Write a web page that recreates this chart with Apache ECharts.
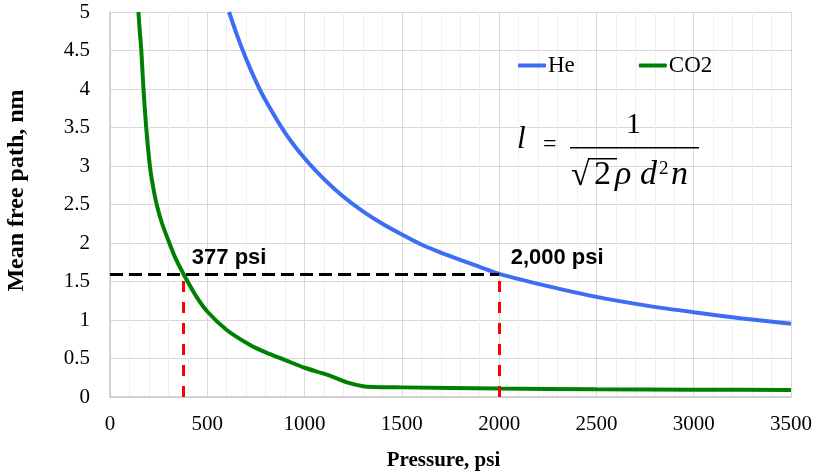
<!DOCTYPE html>
<html><head><meta charset="utf-8">
<script src="https://cdn.jsdelivr.net/npm/echarts@6/dist/echarts.min.js"></script>
<style>html,body{margin:0;padding:0;background:#fff}#c{width:818px;height:476px}</style>
</head><body><div id="c"></div>
<script>
// ---- data ----
const pressureHe = [612,650,700,750,800,900,1000,1100,1200,1300,1400,1500,1600,1700,1800,1900,2000,2250,2500,2750,3000,3250,3500];
const mfpHe      = [5.00,4.72,4.39,4.10,3.85,3.43,3.10,2.83,2.60,2.41,2.25,2.11,1.98,1.875,1.78,1.69,1.60,1.44,1.30,1.19,1.10,1.02,0.95];
const pressureCO2 = [146,153,161,172,186,205,220,240,268,305,337,377,440,500,600,720,800,900,1000,1115,1218,1300,1350,1500,2000,2500,3000,3500];
const mfpCO2      = [5.0,4.75,4.5,4.0,3.5,3.0,2.75,2.5,2.25,2.0,1.8,1.6,1.32,1.11,0.87,0.675,0.58,0.48,0.38,0.29,0.19,0.14,0.13,0.125,0.11,0.10,0.095,0.09];
const seriesNames = ['He','CO2'];
const refLevel = 1.6;
const refPressures = [377, 2000];
const refLabels = ['377 psi', '2,000 psi'];
const xRange = [0, 3500, 500];
const yRange = [0, 5, 0.5];
const xTitle = 'Pressure, psi';
const yTitle = 'Mean free path, nm';

const serif = 'Liberation Serif';
const sans = 'Liberation Sans';
const zip = (a, b) => a.map((v, i) => [v, b[i]]);

const chart = echarts.init(document.getElementById('c'));
chart.setOption({
  animation: false,
  backgroundColor: '#fff',
  grid: { left: 110, right: 27, top: 12, bottom: 79, containLabel: false, outerBoundsMode: 'none' },
  legend: {
    data: seriesNames,
    left: 518, top: 54, padding: 0,
    icon: 'roundRect', itemWidth: 28, itemHeight: 4, itemGap: 64,
    textStyle: { fontFamily: serif, fontSize: 23, color: '#000', padding: [0, 0, 0, -3] }
  },
  xAxis: {
    type: 'value', min: xRange[0], max: xRange[1], interval: xRange[2],
    name: xTitle, nameLocation: 'middle', nameGap: 53,
    nameTextStyle: { fontFamily: serif, fontSize: 21, fontWeight: 'bold', color: '#000', padding: [0, 14, 0, 0] },
    axisLine: { show: true, lineStyle: { color: '#c8c8c8', width: 1.5 } },
    axisTick: { show: false },
    axisLabel: { fontFamily: serif, fontSize: 21, color: '#000', margin: 17, formatter: v => String(v) },
    splitLine: { show: true, lineStyle: { color: '#d9d9d9', width: 1 } },
    minorTick: { show: false, splitNumber: 5 },
    minorSplitLine: { show: true, lineStyle: { color: '#f0f0f0', width: 1 } }
  },
  yAxis: {
    type: 'value', min: yRange[0], max: yRange[1], interval: yRange[2],
    name: yTitle, nameLocation: 'middle', nameGap: 81, nameRotate: 90,
    nameTextStyle: { fontFamily: serif, fontSize: 24, fontWeight: 'bold', color: '#000', padding: [0, 0, 0, 28] },
    axisLine: { show: true, lineStyle: { color: '#c8c8c8', width: 1.5 } },
    axisTick: { show: false },
    axisLabel: { fontFamily: serif, fontSize: 21, color: '#000', margin: 20, formatter: v => String(v) },
    splitLine: { show: true, lineStyle: { color: '#d9d9d9', width: 1 } }
  },
  series: [
    {
      name: seriesNames[0], type: 'line', data: zip(pressureHe, mfpHe),
      smooth: 0.3, symbol: 'none', z: 3,
      lineStyle: { color: '#3d6cf5', width: 4 }, itemStyle: { color: '#3d6cf5' }
    },
    {
      name: seriesNames[1], type: 'line', data: zip(pressureCO2, mfpCO2),
      smooth: 0.25, symbol: 'none', z: 3,
      lineStyle: { color: '#008000', width: 4 }, itemStyle: { color: '#008000' },
      markLine: {
        silent: true, symbol: 'none', animation: false,
        label: { show: false },
        data: [
          [{ coord: [xRange[0], refLevel], lineStyle: { color: '#000', width: 3, type: [13, 6] } },
           { coord: [refPressures[1], refLevel] }],
          [{ coord: [refPressures[0], yRange[0]], lineStyle: { color: '#ff0000', width: 3, type: [11, 10] } },
           { coord: [refPressures[0], refLevel] }],
          [{ coord: [refPressures[1], yRange[0]], lineStyle: { color: '#ff0000', width: 3, type: [11, 10] } },
           { coord: [refPressures[1], refLevel] }]
        ]
      },
      markPoint: {
        silent: true, symbol: 'rect', symbolSize: 1,
        itemStyle: { color: 'rgba(0,0,0,0)' },
        data: refPressures.map((p, i) => ({
          coord: [p, refLevel],
          label: {
            show: true, formatter: refLabels[i], position: 'right', distance: 0,
            offset: [i === 0 ? 8 : 11, -16],
            fontFamily: sans, fontWeight: 'bold', fontSize: 22, color: '#000'
          }
        }))
      }
    }
  ],
  graphic: [
    { type: 'text', z: 100, left: 517, top: 124, style: { text: 'l', font: 'italic 31px "Liberation Serif"', fill: '#000' } },
    { type: 'text', z: 100, left: 543, top: 133, style: { text: '=', font: '24px "Liberation Serif"', fill: '#000' } },
    { type: 'text', z: 100, left: 626, top: 110, style: { text: '1', font: '30px "Liberation Serif"', fill: '#000' } },
    { type: 'rect', z: 100, shape: { x: 570, y: 147, width: 129, height: 1.5 }, style: { fill: '#000' } },
    { type: 'text', z: 100, left: 571, top: 159, style: { text: '√', font: '34px "Liberation Serif"', fill: '#000' } },
    { type: 'rect', z: 100, shape: { x: 588, y: 158, width: 29, height: 1.5 }, style: { fill: '#000' } },
    { type: 'text', z: 100, left: 594, top: 158, style: { text: '2', font: '34px "Liberation Serif"', fill: '#000' } },
    { type: 'text', z: 100, left: 615, top: 158, style: { text: 'ρ', font: 'italic 34px "Liberation Serif"', fill: '#000' } },
    { type: 'text', z: 100, left: 640, top: 158, style: { text: 'd', font: 'italic 34px "Liberation Serif"', fill: '#000' } },
    { type: 'text', z: 100, left: 659, top: 160, style: { text: '2', font: '19px "Liberation Serif"', fill: '#000' } },
    { type: 'text', z: 100, left: 671, top: 158, style: { text: 'n', font: 'italic 34px "Liberation Serif"', fill: '#000' } }
  ]
});
</script></body></html>
